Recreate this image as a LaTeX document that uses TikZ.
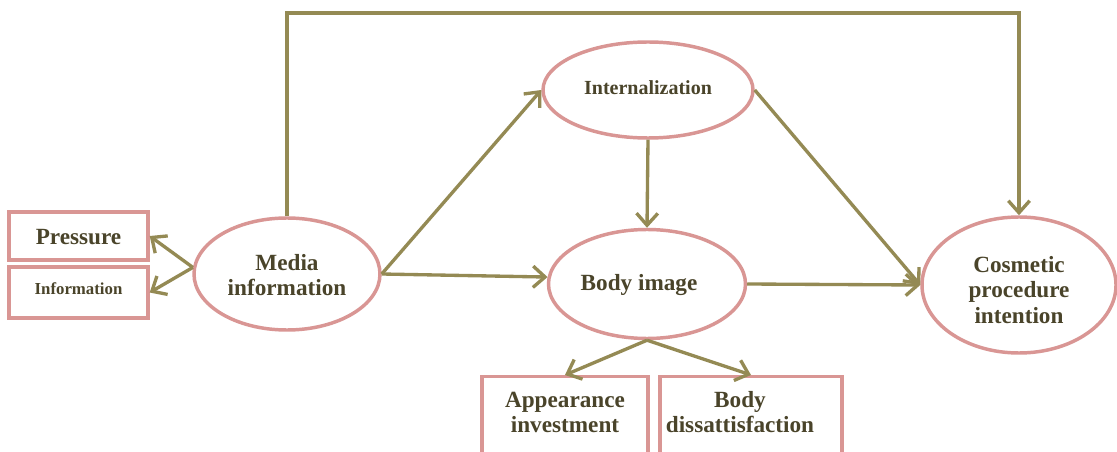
\documentclass[tikz,border=0pt]{standalone}
\usepackage{fontspec}
\setmainfont{Liberation Serif}
\usetikzlibrary{shapes.geometric,arrows.meta}
\definecolor{rose}{HTML}{D99694}
\definecolor{olive}{HTML}{948A54}
\definecolor{ink}{HTML}{4A442A}
\begin{document}
\begin{tikzpicture}[x=0.75pt,y=-0.75pt,
  oval/.style={ellipse, draw=rose, line width=2.6pt, inner sep=0pt},
  box/.style={rectangle, draw=rose, line width=2.6pt, inner sep=0pt},
  txt/.style={text=ink, font=\bfseries\fontsize{17.4}{18.8}\selectfont, align=center, inner sep=0pt},
  arr/.style={draw=olive, line width=2.5pt,
    -{Straight Barb[length=9pt,width=16pt,line width=2.5pt]}}]
\clip (0,0) rectangle (1117,452);
\fill[white] (0,0) rectangle (1117,452);

% left-hand boxes
\node[box, minimum width=104.25pt, minimum height=36pt] (pres) at (78.5,236) {};
\node[txt] (prestxt) at (78.5,237) {Pressure};
\node[box, minimum width=104.25pt, minimum height=38.25pt] (info) at (78.5,292.5) {};
\node[txt, font=\bfseries\fontsize{12.6}{15}\selectfont] (infotxt) at (78.5,289) {Information};

% ovals
\node[oval, minimum width=139.5pt, minimum height=84pt] (media) at (287,274) {};
\node[txt] (mediatxt) at (287,275) {Media\\information};
\node[oval, minimum width=157.5pt, minimum height=72pt] (intern) at (648,90) {};
\node[txt, font=\bfseries\fontsize{15}{18}\selectfont] (interntxt) at (648,88) {Internalization};
\node[oval, minimum width=147.75pt, minimum height=81.75pt] (body) at (647,284) {};
\node[txt] (bodytxt) at (639,285) {Body image};
\node[oval, minimum width=145.5pt, minimum height=102pt] (cosm) at (1019,285) {};
\node[txt] (cosmtxt) at (1019,290) {Cosmetic\\procedure\\intention};

% lower boxes, running off the bottom edge
\node[box, anchor=north, minimum width=124.5pt, minimum height=75pt] (appear) at (565,375) {};
\node[txt] (appeartxt) at (565,412) {Appearance\\investment};
\node[box, anchor=north, minimum width=136.5pt, minimum height=75pt] (dissat) at (751,375) {};
\node[txt] (dissattxt) at (740,412) {Body\\dissattisfaction};

% connectors
\coordinate (bend) at (287,13);
\draw[arr] (media.176) -- (pres.east);
\draw[arr] (media.176) -- (info.east);
\draw[arr] (media.north) -- (bend) -| (cosm.north);
\draw[arr] (media.east) -- (intern.west);
\draw[arr] (media.east) -- (body.176);
\draw[arr] (intern.south) -- (body.north);
\draw[arr] (intern.east) -- (cosm.west);
\draw[arr] (body.east) -- (cosm.west);
\draw[arr] (body.south) -- (appear.north);
\draw[arr] (body.south) -- (dissat.north);
\end{tikzpicture}
\end{document}
